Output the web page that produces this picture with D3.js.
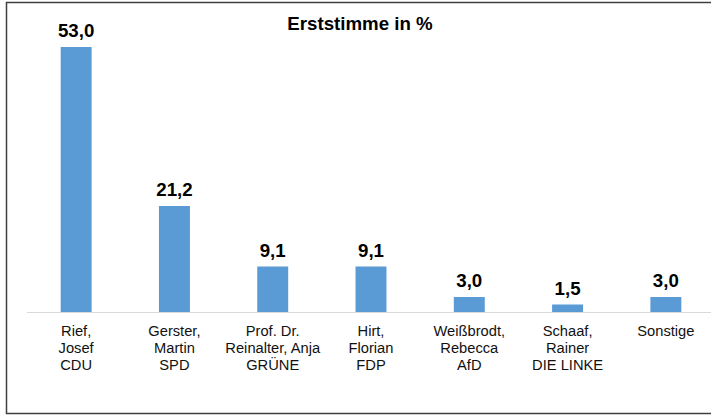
<!DOCTYPE html>
<html>
<head>
<meta charset="utf-8">
<script src="https://cdn.jsdelivr.net/npm/d3@7"></script>
<style>
    body { margin: 0; background: #fff; overflow: hidden; }
    text { font-family: "Liberation Sans", Arial, sans-serif; }
</style>
</head>
<body>
<div id="chart"></div>
<script>
const width = 711, height = 416;

// Kandidaten (Zeilen der Beschriftung) und Erststimmen in %
const candidates = [
    ["Rief,", "Josef", "CDU"],
    ["Gerster,", "Martin", "SPD"],
    ["Prof. Dr.", "Reinalter, Anja", "GRÜNE"],
    ["Hirt,", "Florian", "FDP"],
    ["Weißbrodt,", "Rebecca", "AfD"],
    ["Schaaf,", "Rainer", "DIE LINKE"],
    ["Sonstige"]
];
const values = [53.0, 21.2, 9.1, 9.1, 3.0, 1.5, 3.0];

const chartTitle = "Erststimme in %";

const svg = d3.select("#chart").append("svg")
    .attr("width", width)
    .attr("height", height)
    .style("display", "block");

const data = candidates.map((c, i) => ({ key: i, lines: c, value: values[i] }));

const x = d3.scaleBand()
    .domain(data.map(d => d.key))
    .range([27, 715])
    .paddingInner(0.685)
    .paddingOuter(0.3425);

const y = d3.scaleLinear().domain([0, 60]).range([312, 12]);

// outer frame (right edge lies outside the picture)
svg.append("rect")
    .attr("x", 6.5)
    .attr("y", 2.5)
    .attr("width", 720)
    .attr("height", 411)
    .attr("fill", "none")
    .attr("stroke", "#404040")
    .attr("stroke-width", 1.5);

svg.append("text")
    .attr("x", 360)
    .attr("y", 30)
    .attr("text-anchor", "middle")
    .style("font-size", "18.7px")
    .style("font-weight", "bold")
    .text(chartTitle);

svg.selectAll(".bar")
    .data(data)
    .enter().append("rect")
    .attr("class", "bar")
    .attr("x", d => x(d.key))
    .attr("y", d => y(d.value))
    .attr("width", x.bandwidth())
    .attr("height", d => y(0) - y(d.value))
    .attr("fill", "#5b9bd5");

// baseline
svg.append("line")
    .attr("x1", 27)
    .attr("x2", 715)
    .attr("y1", y(0) + 0.5)
    .attr("y2", y(0) + 0.5)
    .attr("stroke", "#d9d9d9")
    .attr("stroke-width", 1);

svg.selectAll(".value")
    .data(data)
    .enter().append("text")
    .attr("class", "value")
    .attr("x", d => x(d.key) + x.bandwidth() / 2)
    .attr("y", d => y(d.value) - 10)
    .attr("text-anchor", "middle")
    .style("font-size", "18.7px")
    .style("font-weight", "bold")
    .text(d => d3.format(".1f")(d.value).replace(".", ","));

const labels = svg.selectAll(".label")
    .data(data)
    .enter().append("text")
    .attr("class", "label")
    .attr("text-anchor", "middle")
    .style("font-size", "14.7px")
    .attr("fill", "#111");

labels.selectAll("tspan")
    .data(d => d.lines.map(l => ({ l, cx: x(d.key) + x.bandwidth() / 2 })))
    .enter().append("tspan")
    .attr("x", d => d.cx)
    .attr("y", (d, i) => 335.5 + i * 17)
    .text(d => d.l);
</script>
</body>
</html>
